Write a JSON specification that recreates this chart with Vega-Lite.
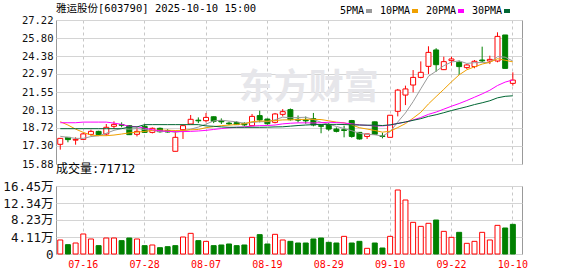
{
  "$schema": "https://vega.github.io/schema/vega-lite/v6.json",
  "background": "#ffffff",
  "padding": {"left": 2, "top": 3, "right": 2, "bottom": 2},
  "bounds": "flush",
  "spacing": 22,
  "config": {
    "view": {"stroke": "#999999", "strokeWidth": 1},
    "axis": {"ticks": false, "domain": false, "title": null, "gridColor": "#d4d4d4", "gridWidth": 1, "labelOverlap": false, "labelFont": "DejaVu Sans Mono, Noto Sans CJK SC", "labelColor": "#111111"},
    "title": {"font": "DejaVu Sans Mono, Noto Sans CJK SC", "fontWeight": "normal", "color": "#000000", "anchor": "start", "frame": "group"}
  },
  "data": {"values": [
{"d":"07-11","o":17.43,"h":17.93,"l":17.01,"c":17.90,"v":33900,"vd":"up","ma5":18.06,"ma10":19.21,"ma20":19.13,"ma30":18.66},
{"d":"07-14","o":17.98,"h":18.00,"l":17.59,"c":17.80,"v":22600,"vd":"down","ma5":17.98,"ma10":18.95,"ma20":19.13,"ma30":18.66},
{"d":"07-15","o":17.76,"h":17.98,"l":17.40,"c":17.82,"v":26600,"vd":"up","ma5":17.90,"ma10":18.63,"ma20":19.13,"ma30":18.66},
{"d":"07-16","o":17.82,"h":18.35,"l":17.78,"c":18.25,"v":48400,"vd":"up","ma5":17.90,"ma10":18.37,"ma20":19.18,"ma30":18.66},
{"d":"07-17","o":18.21,"h":18.58,"l":18.11,"c":18.45,"v":36300,"vd":"up","ma5":18.04,"ma10":18.16,"ma20":19.18,"ma30":18.66},
{"d":"07-18","o":18.45,"h":18.50,"l":18.15,"c":18.19,"v":20200,"vd":"down","ma5":18.10,"ma10":18.11,"ma20":19.18,"ma30":18.66},
{"d":"07-21","o":18.24,"h":19.03,"l":18.11,"c":18.77,"v":38700,"vd":"up","ma5":18.30,"ma10":18.11,"ma20":19.18,"ma30":18.66},
{"d":"07-22","o":18.85,"h":19.24,"l":18.64,"c":19.00,"v":38700,"vd":"up","ma5":18.53,"ma10":18.16,"ma20":19.10,"ma30":18.66},
{"d":"07-23","o":18.98,"h":19.16,"l":18.77,"c":18.93,"v":32300,"vd":"down","ma5":18.67,"ma10":18.24,"ma20":19.00,"ma30":18.66},
{"d":"07-24","o":18.90,"h":18.92,"l":18.17,"c":18.19,"v":38700,"vd":"down","ma5":18.62,"ma10":18.33,"ma20":18.85,"ma30":18.80},
{"d":"07-25","o":18.22,"h":18.75,"l":18.05,"c":18.45,"v":36300,"vd":"up","ma5":18.67,"ma10":18.39,"ma20":18.82,"ma30":18.80},
{"d":"07-28","o":18.85,"h":19.00,"l":18.33,"c":18.37,"v":20200,"vd":"down","ma5":18.59,"ma10":18.44,"ma20":18.70,"ma30":18.98},
{"d":"07-29","o":18.37,"h":18.76,"l":18.29,"c":18.69,"v":21800,"vd":"up","ma5":18.53,"ma10":18.53,"ma20":18.58,"ma30":18.98},
{"d":"07-30","o":18.69,"h":18.75,"l":18.35,"c":18.42,"v":15300,"vd":"down","ma5":18.42,"ma10":18.55,"ma20":18.50,"ma30":18.98},
{"d":"07-31","o":18.52,"h":18.62,"l":18.35,"c":18.40,"v":17700,"vd":"down","ma5":18.47,"ma10":18.54,"ma20":18.45,"ma30":18.98},
{"d":"08-01","o":16.88,"h":18.50,"l":16.88,"c":17.98,"v":20200,"vd":"down","ma5":18.37,"ma10":18.52,"ma20":18.43,"ma30":18.98},
{"d":"08-04","o":18.58,"h":18.92,"l":17.85,"c":18.90,"v":41100,"vd":"up","ma5":18.48,"ma10":18.53,"ma20":18.43,"ma30":18.98},
{"d":"08-05","o":19.03,"h":19.74,"l":19.00,"c":19.40,"v":50000,"vd":"up","ma5":18.62,"ma10":18.57,"ma20":18.45,"ma30":18.98},
{"d":"08-06","o":19.33,"h":19.55,"l":19.10,"c":19.28,"v":32300,"vd":"down","ma5":18.79,"ma10":18.60,"ma20":18.48,"ma30":18.98},
{"d":"08-07","o":19.29,"h":19.90,"l":19.16,"c":19.55,"v":30600,"vd":"up","ma5":19.02,"ma10":18.74,"ma20":18.53,"ma30":18.88},
{"d":"08-08","o":19.60,"h":19.62,"l":19.10,"c":19.24,"v":20200,"vd":"down","ma5":19.27,"ma10":18.82,"ma20":18.60,"ma30":18.85},
{"d":"08-11","o":19.30,"h":19.47,"l":19.03,"c":19.20,"v":21800,"vd":"down","ma5":19.33,"ma10":18.90,"ma20":18.67,"ma30":18.80},
{"d":"08-12","o":19.10,"h":19.21,"l":18.95,"c":19.04,"v":24200,"vd":"down","ma5":19.26,"ma10":18.94,"ma20":18.73,"ma30":18.77},
{"d":"08-13","o":19.15,"h":19.25,"l":18.95,"c":18.98,"v":20200,"vd":"down","ma5":19.20,"ma10":18.99,"ma20":18.77,"ma30":18.77},
{"d":"08-14","o":19.08,"h":19.16,"l":18.85,"c":18.96,"v":21800,"vd":"down","ma5":19.08,"ma10":19.05,"ma20":18.80,"ma30":18.77},
{"d":"08-15","o":18.90,"h":19.82,"l":18.88,"c":19.63,"v":40300,"vd":"up","ma5":19.15,"ma10":19.21,"ma20":18.87,"ma30":18.77},
{"d":"08-18","o":19.69,"h":20.08,"l":19.16,"c":19.35,"v":46800,"vd":"down","ma5":19.21,"ma10":19.27,"ma20":18.90,"ma30":18.77},
{"d":"08-19","o":19.42,"h":19.45,"l":18.98,"c":19.05,"v":24200,"vd":"down","ma5":19.21,"ma10":19.25,"ma20":18.91,"ma30":18.78},
{"d":"08-20","o":19.16,"h":19.90,"l":19.08,"c":19.82,"v":47600,"vd":"up","ma5":19.36,"ma10":19.30,"ma20":18.95,"ma30":18.80},
{"d":"08-21","o":19.79,"h":20.20,"l":19.63,"c":20.00,"v":33900,"vd":"up","ma5":19.57,"ma10":19.35,"ma20":19.04,"ma30":18.81},
{"d":"08-22","o":20.16,"h":20.25,"l":19.30,"c":19.37,"v":30600,"vd":"down","ma5":19.52,"ma10":19.36,"ma20":19.09,"ma30":18.86},
{"d":"08-25","o":19.40,"h":19.70,"l":19.16,"c":19.33,"v":26600,"vd":"down","ma5":19.54,"ma10":19.38,"ma20":19.12,"ma30":18.91},
{"d":"08-26","o":19.35,"h":19.62,"l":19.05,"c":19.28,"v":26600,"vd":"down","ma5":19.56,"ma10":19.40,"ma20":19.12,"ma30":18.95},
{"d":"08-27","o":19.45,"h":19.90,"l":18.85,"c":18.95,"v":36300,"vd":"down","ma5":19.39,"ma10":19.40,"ma20":19.11,"ma30":18.98},
{"d":"08-28","o":18.90,"h":18.92,"l":18.30,"c":18.85,"v":38700,"vd":"down","ma5":19.16,"ma10":19.38,"ma20":19.13,"ma30":18.99},
{"d":"08-29","o":18.98,"h":19.10,"l":18.50,"c":18.63,"v":28200,"vd":"down","ma5":19.01,"ma10":19.28,"ma20":19.17,"ma30":19.00},
{"d":"09-01","o":18.63,"h":18.76,"l":18.37,"c":18.45,"v":26600,"vd":"down","ma5":18.84,"ma10":19.18,"ma20":19.14,"ma30":19.00},
{"d":"09-02","o":18.58,"h":18.90,"l":17.98,"c":18.52,"v":42700,"vd":"up","ma5":18.67,"ma10":19.12,"ma20":19.11,"ma30":18.99},
{"d":"09-03","o":19.30,"h":19.35,"l":17.95,"c":18.05,"v":26600,"vd":"down","ma5":18.50,"ma10":18.95,"ma20":19.04,"ma30":18.96},
{"d":"09-04","o":18.37,"h":18.40,"l":17.80,"c":17.85,"v":30600,"vd":"down","ma5":18.30,"ma10":18.74,"ma20":18.96,"ma30":18.95},
{"d":"09-05","o":18.05,"h":18.25,"l":17.85,"c":18.25,"v":13700,"vd":"up","ma5":18.22,"ma10":18.63,"ma20":18.92,"ma30":18.94},
{"d":"09-08","o":19.20,"h":19.22,"l":18.20,"c":18.22,"v":26600,"vd":"down","ma5":18.18,"ma10":18.52,"ma20":18.88,"ma30":18.94},
{"d":"09-09","o":18.10,"h":18.35,"l":17.90,"c":18.05,"v":14500,"vd":"down","ma5":18.08,"ma10":18.39,"ma20":18.88,"ma30":18.91},
{"d":"09-10","o":17.98,"h":19.72,"l":17.98,"c":19.72,"v":42700,"vd":"up","ma5":18.42,"ma10":18.46,"ma20":18.94,"ma30":18.96},
{"d":"09-11","o":20.03,"h":21.79,"l":19.63,"c":21.70,"v":154800,"vd":"up","ma5":19.19,"ma10":18.75,"ma20":19.08,"ma30":19.07},
{"d":"09-12","o":21.31,"h":22.05,"l":20.52,"c":21.79,"v":130600,"vd":"up","ma5":19.90,"ma10":19.06,"ma20":19.18,"ma30":19.19},
{"d":"09-15","o":22.10,"h":23.28,"l":21.52,"c":22.70,"v":76600,"vd":"up","ma5":20.79,"ma10":19.49,"ma20":19.35,"ma30":19.32},
{"d":"09-16","o":22.70,"h":23.96,"l":22.63,"c":23.10,"v":66900,"vd":"up","ma5":21.80,"ma10":19.95,"ma20":19.54,"ma30":19.45},
{"d":"09-17","o":23.57,"h":25.15,"l":22.97,"c":24.67,"v":74200,"vd":"up","ma5":22.79,"ma10":20.61,"ma20":19.79,"ma30":19.63},
{"d":"09-18","o":24.86,"h":25.00,"l":23.15,"c":23.70,"v":82200,"vd":"down","ma5":23.19,"ma10":21.19,"ma20":19.97,"ma30":19.76},
{"d":"09-19","o":23.31,"h":24.33,"l":23.28,"c":23.94,"v":54800,"vd":"up","ma5":23.62,"ma10":21.76,"ma20":20.20,"ma30":19.92},
{"d":"09-22","o":24.02,"h":24.33,"l":23.62,"c":24.15,"v":40300,"vd":"up","ma5":23.91,"ma10":22.35,"ma20":20.43,"ma30":20.09},
{"d":"09-23","o":23.89,"h":24.02,"l":22.89,"c":23.55,"v":52400,"vd":"down","ma5":24.00,"ma10":22.90,"ma20":20.64,"ma30":20.24},
{"d":"09-24","o":23.47,"h":23.75,"l":23.36,"c":23.68,"v":25800,"vd":"up","ma5":23.80,"ma10":23.30,"ma20":20.88,"ma30":20.39},
{"d":"09-25","o":23.55,"h":24.07,"l":23.42,"c":23.97,"v":30600,"vd":"up","ma5":23.86,"ma10":23.53,"ma20":21.14,"ma30":20.56},
{"d":"09-26","o":24.07,"h":25.12,"l":23.89,"c":24.00,"v":52400,"vd":"up","ma5":23.87,"ma10":23.75,"ma20":21.40,"ma30":20.70},
{"d":"09-29","o":23.99,"h":24.41,"l":23.75,"c":24.12,"v":33900,"vd":"up","ma5":23.86,"ma10":23.89,"ma20":21.69,"ma30":20.86},
{"d":"09-30","o":23.99,"h":26.25,"l":23.89,"c":25.93,"v":69300,"vd":"up","ma5":24.34,"ma10":24.17,"ma20":22.06,"ma30":21.09},
{"d":"10-09","o":26.04,"h":26.04,"l":23.41,"c":23.41,"v":62900,"vd":"down","ma5":24.29,"ma10":24.05,"ma20":22.33,"ma30":21.21},
{"d":"10-10","o":22.23,"h":23.10,"l":22.05,"c":22.49,"v":71712,"vd":"down","ma5":23.99,"ma10":23.92,"ma20":22.50,"ma30":21.25}
  ]},
  "vconcat": [
    {
      "width": 466,
      "height": 144,
      "title": {"text": "雅运股份[603790] 2025-10-10 15:00", "fontSize": 10.5, "offset": 1},
      "layer": [
        {
          "data": {"values": [{"wm": "东方财富"}]},
          "mark": {"type": "text", "font": "Noto Sans CJK SC", "fontWeight": "bold", "fontSize": 35, "color": "#e6e6ea", "dx": 3},
          "encoding": {
            "x": {"datum": "08-26", "type": "ordinal", "scale": {"paddingInner": 0.35, "paddingOuter": 0.55, "align": 0.21, "round": false}, "axis": {"values": ["07-16","07-28","08-07","08-19","08-29","09-10","09-22","10-10"], "labels": false, "grid": true, "gridDash": [3, 3], "gridColor": "#c8c8c8", "bandPosition": 0.5}},
            "y": {"datum": 21.86, "type": "quantitative", "scale": {"domain": [15.88, 27.22], "nice": false, "zero": false}, "axis": {"values": [15.88, 17.30, 18.72, 20.13, 21.55, 22.97, 24.38, 25.80, 27.22], "tickCount": 20, "format": ".2f", "labelFontSize": 10.5, "labelPadding": 3, "grid": true, "labelOverlap": false}},
            "text": {"field": "wm"}
          }
        },
        {
          "mark": {"type": "rule", "strokeWidth": 1},
          "encoding": {
            "x": {"field": "d", "type": "ordinal"},
            "y": {"field": "l", "type": "quantitative"},
            "y2": {"field": "h"},
            "color": {"condition": {"test": "datum.c >= datum.o", "value": "#ff0000"}, "value": "#008000"}
          }
        },
        {
          "mark": {"type": "bar", "strokeWidth": 1},
          "encoding": {
            "x": {"field": "d", "type": "ordinal"},
            "y": {"field": "o", "type": "quantitative"},
            "y2": {"field": "c"},
            "fill": {"condition": {"test": "datum.c >= datum.o", "value": "#ffffff"}, "value": "#008000"},
            "stroke": {"condition": {"test": "datum.c >= datum.o", "value": "#ff0000"}, "value": "#008000"}
          }
        },
        {
          "transform": [{"fold": ["ma5", "ma10", "ma20", "ma30"], "as": ["k", "val"]}],
          "mark": {"type": "line", "strokeWidth": 1},
          "encoding": {
            "x": {"field": "d", "type": "ordinal"},
            "y": {"field": "val", "type": "quantitative"},
            "color": {
              "field": "k", "type": "nominal",
              "scale": {"domain": ["ma5", "ma10", "ma20", "ma30"], "range": ["#9a9a9a", "#f0a000", "#ff00ff", "#006633"]},
              "legend": {"orient": "none", "legendX": 308, "legendY": -14, "direction": "horizontal", "title": null, "labelExpr": "replace(datum.label, 'ma', '') + 'PMA'", "labelFont": "DejaVu Sans Mono", "labelFontSize": 10, "labelColor": "#000000", "symbolType": "stroke", "symbolSize": 36, "symbolStrokeWidth": 4, "labelAlign": "right", "labelOffset": -10, "columnPadding": -1, "padding": 0}
            }
          }
        }
      ]
    },
    {
      "width": 466,
      "height": 68,
      "title": {"text": "成交量:71712", "fontSize": 12, "offset": 4},
      "mark": {"type": "bar", "strokeWidth": 1},
      "encoding": {
        "x": {"field": "d", "type": "ordinal", "scale": {"paddingInner": 0.35, "paddingOuter": 0.55, "align": 0.21, "round": false}, "axis": {"values": ["07-16","07-28","08-07","08-19","08-29","09-10","09-22","10-10"], "labelAngle": 0, "labelColor": "#ff0000", "labelFontSize": 10, "labelPadding": 5, "grid": true, "gridDash": [3, 3], "gridColor": "#c8c8c8", "bandPosition": 0.5}},
        "y": {"field": "v", "type": "quantitative", "scale": {"domain": [0, 164500], "nice": false}, "axis": {"values": [0, 41125, 82300, 123375, 164500], "tickCount": 10, "labelExpr": "datum.value == 0 ? '0' : format(datum.value / 10000, '.2f') + '万'", "labelFontSize": 12.5, "labelPadding": 3, "grid": true}},
        "fill": {"condition": {"test": "datum.vd == 'up'", "value": "#ffffff"}, "value": "#008000"},
        "stroke": {"condition": {"test": "datum.vd == 'up'", "value": "#ff0000"}, "value": "#008000"}
      }
    }
  ]
}
